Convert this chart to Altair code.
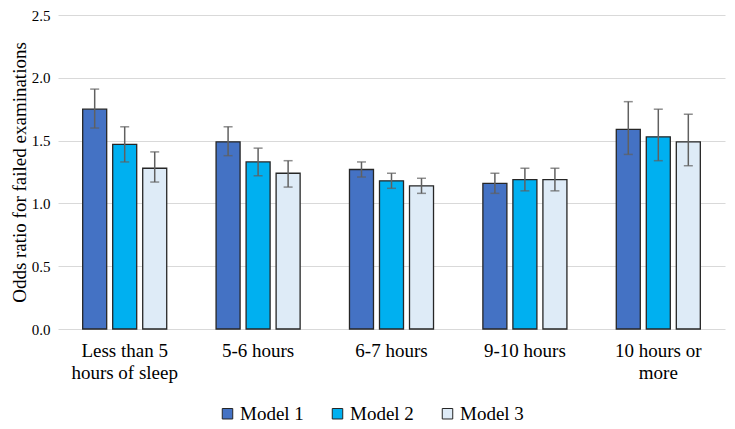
import altair as alt
import pandas as pd

groups = ["Less than 5 hours of sleep", "5-6 hours", "6-7 hours", "9-10 hours", "10 hours or more"]
models = ["Model 1", "Model 2", "Model 3"]

m1 = [1.75, 1.49, 1.27, 1.16, 1.59]
m1_lo = [1.60, 1.38, 1.21, 1.08, 1.39]
m1_hi = [1.91, 1.61, 1.33, 1.24, 1.81]
m2 = [1.47, 1.33, 1.18, 1.19, 1.53]
m2_lo = [1.33, 1.22, 1.12, 1.10, 1.34]
m2_hi = [1.61, 1.44, 1.24, 1.28, 1.75]
m3 = [1.28, 1.24, 1.14, 1.19, 1.49]
m3_lo = [1.17, 1.13, 1.08, 1.10, 1.30]
m3_hi = [1.41, 1.34, 1.20, 1.28, 1.71]

colors = ["#4472C4", "#00B0F0", "#DEEBF7"]

rows = []
for name, vals, lo, hi in zip(models, [m1, m2, m3], [m1_lo, m2_lo, m3_lo], [m1_hi, m2_hi, m3_hi]):
    for g, v, l, h in zip(groups, vals, lo, hi):
        rows.append({"group": g, "model": name, "value": v, "lo": l, "hi": h})
df = pd.DataFrame(rows)

FONT = "Times New Roman, Liberation Serif, DejaVu Serif, serif"

label_expr = ("datum.value == 'Less than 5 hours of sleep' ? ['Less than 5', 'hours of sleep'] : "
              "datum.value == '10 hours or more' ? ['10 hours or', 'more'] : datum.value")

x = alt.X("group:N", sort=groups, title=None,
          scale=alt.Scale(paddingInner=0.37, paddingOuter=0.185),
          axis=alt.Axis(labelAngle=0, labelExpr=label_expr, labelFont=FONT, labelFontSize=19,
                        labelColor="#000000", labelPadding=12, labelLineHeight=22,
                        domain=False, ticks=False, labelBaseline="top"))
xo = alt.XOffset("model:N", sort=models, scale=alt.Scale(paddingInner=0.2, paddingOuter=0))
y = alt.Y("value:Q", title="Odds ratio for failed examinations",
          scale=alt.Scale(domain=[0, 2.5], nice=False),
          axis=alt.Axis(values=[0, 0.5, 1.0, 1.5, 2.0, 2.5], format=".1f", labelFont=FONT,
                        labelFontSize=15, labelColor="#000000", labelPadding=8,
                        titleFont=FONT, titleFontSize=19, titleFontWeight="normal",
                        titleColor="#000000", titlePadding=2,
                        domain=False, ticks=False, grid=True, gridColor="#d9d9d9", gridWidth=1))

base = alt.Chart(df)

bars = base.mark_bar(stroke="#262626", strokeWidth=1.3).encode(
    x=x, xOffset=xo, y=y,
    color=alt.Color("model:N", sort=models,
                    scale=alt.Scale(domain=models, range=colors),
                    legend=alt.Legend(title=None, orient="none", direction="horizontal",
                                      legendX=160, legendY=389,
                                      labelFont=FONT, labelFontSize=19, labelColor="#000000",
                                      symbolType="square", symbolSize=110,
                                      symbolStrokeColor="#262626", symbolStrokeWidth=1,
                                      symbolOpacity=1, columnPadding=24, labelOffset=3)),
)

rule = base.mark_rule(color="#606060", strokeWidth=1.5).encode(
    x=x, xOffset=xo, y=alt.Y("lo:Q"), y2="hi:Q")
cap_lo = base.mark_tick(color="#606060", thickness=1.5, size=9).encode(
    x=x, xOffset=xo, y=alt.Y("lo:Q"))
cap_hi = base.mark_tick(color="#606060", thickness=1.5, size=9).encode(
    x=x, xOffset=xo, y=alt.Y("hi:Q"))

chart = alt.layer(bars, rule, cap_lo, cap_hi).properties(
    width=667, height=314,
    padding={"left": 50, "top": 7, "right": 2, "bottom": 100},
    autosize=alt.AutoSizeParams(type="none"),
    background="white",
).configure_view(stroke=None)

chart.save("out.html", embed_options={"renderer": "svg", "actions": False})
